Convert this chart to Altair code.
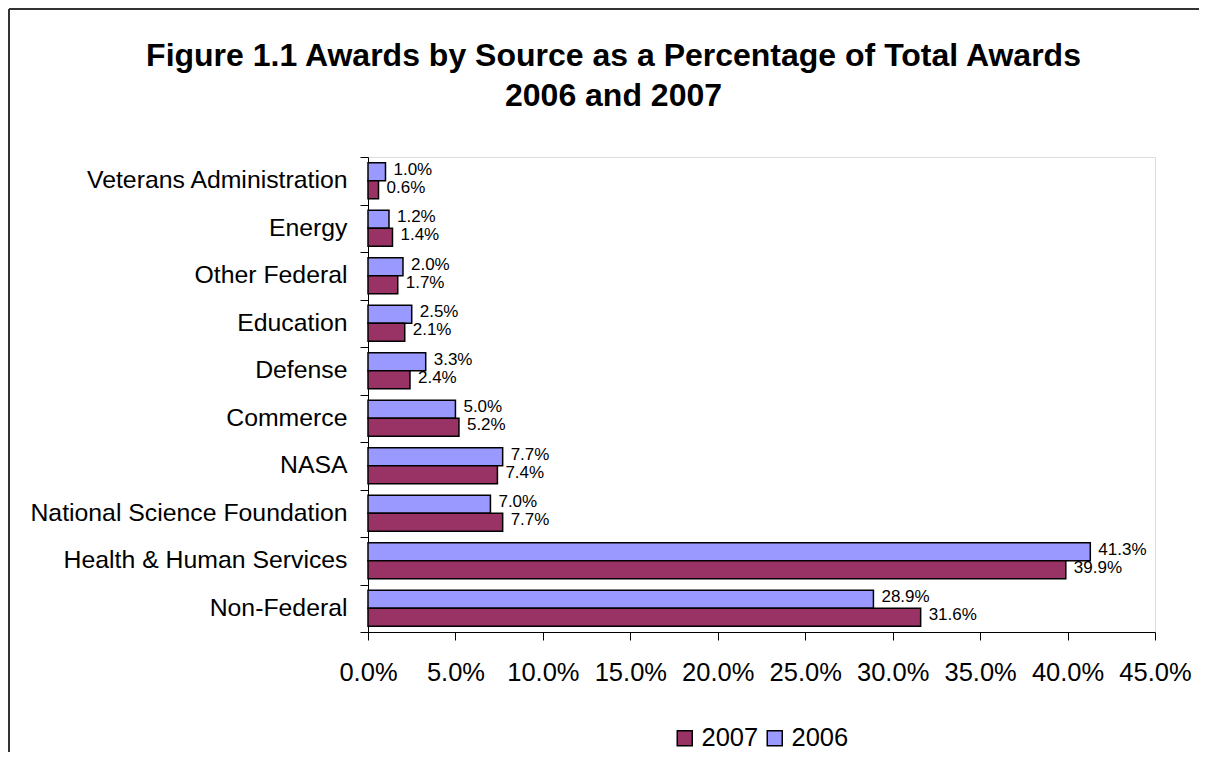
import altair as alt
import pandas as pd

categories = [
    "Veterans Administration",
    "Energy",
    "Other Federal",
    "Education",
    "Defense",
    "Commerce",
    "NASA",
    "National Science Foundation",
    "Health & Human Services",
    "Non-Federal",
]
values_2006 = [1.0, 1.2, 2.0, 2.5, 3.3, 5.0, 7.7, 7.0, 41.3, 28.9]
values_2007 = [0.6, 1.4, 1.7, 2.1, 2.4, 5.2, 7.4, 7.7, 39.9, 31.6]
legend_years = ["2007", "2006"]
bar_order = ["2006", "2007"]
year_colors = ["#993366", "#9999FF"]
x_ticks = [0, 5, 10, 15, 20, 25, 30, 35, 40, 45]

FONT = "Liberation Sans"

rows = []
for c, v6, v7 in zip(categories, values_2006, values_2007):
    rows.append({"Source": c, "Year": "2006", "Value": v6})
    rows.append({"Source": c, "Year": "2007", "Value": v7})
df = pd.DataFrame(rows)

base = alt.Chart(df).encode(
    y=alt.Y(
        "Source:N",
        sort=categories,
        scale=alt.Scale(paddingInner=0, paddingOuter=0),
        axis=alt.Axis(
            title=None,
            tickBand="extent",
            tickSize=8,
            tickColor="black",
            domainColor="black",
            labelFont=FONT,
            labelFontSize=24.8,
            labelColor="black",
            labelPadding=13,
            labelLimit=500,
        ),
    ),
    yOffset=alt.YOffset(
        "Year:N",
        sort=bar_order,
        scale=alt.Scale(paddingInner=0, paddingOuter=0.32),
    ),
    x=alt.X(
        "Value:Q",
        scale=alt.Scale(domain=[0, 45], nice=False),
        axis=alt.Axis(
            title=None,
            values=x_ticks,
            grid=False,
            tickSize=8,
            tickColor="black",
            domainColor="black",
            labelFont=FONT,
            labelFontSize=25.5,
            labelColor="black",
            labelPadding=20,
            labelOverlap=False,
            labelFlush=False,
            labelExpr="format(datum.value, '.1f') + '%'",
        ),
    ),
)

bars = base.mark_bar(stroke="black", strokeWidth=1.5).encode(
    color=alt.Color(
        "Year:N",
        scale=alt.Scale(domain=legend_years, range=year_colors),
        legend=alt.Legend(
            title=None,
            orient="none",
            legendX=304,
            legendY=568,
            direction="horizontal",
            symbolType="square",
            symbolSize=225,
            symbolStrokeColor="black",
            symbolStrokeWidth=1.5,
            labelFont=FONT,
            labelFontSize=25.5,
            labelColor="black",
            labelOffset=4,
            columnPadding=3,
        ),
    )
)

labels = base.transform_calculate(
    label="format(datum.Value, '.1f') + '%'"
).mark_text(
    align="left", baseline="middle", dx=8, dy=-2, fontSize=17, font=FONT, color="black"
).encode(text="label:N")

frame_top = alt.Chart(alt.Data(values=[{}])).mark_rule(color="#333333", strokeWidth=2).encode(
    x=alt.value(-359), x2=alt.value(840), y=alt.value(-148)
)
frame_left = alt.Chart(alt.Data(values=[{}])).mark_rule(color="#333333", strokeWidth=2).encode(
    x=alt.value(-359), y=alt.value(-148), y2=alt.value(600)
)

chart = alt.layer(bars, labels, frame_top, frame_left).properties(
    width=787,
    height=475,
    autosize=alt.AutoSizeParams(type="none"),
    padding={"left": 360, "top": 149, "right": 44, "bottom": 120},
    title=alt.Title(
        ["Figure 1.1 Awards by Source as a Percentage of Total Awards", "2006 and 2007"],
        font=FONT,
        fontSize=32,
        fontWeight="bold",
        color="black",
        anchor="middle",
        frame="group",
        dx=-148,
        dy=151,
        offset=46,
        lineHeight=40,
    ),
).configure_view(stroke="#808080", strokeWidth=1).configure(background="white")

chart.save("out.html", embed_options={"renderer": "svg", "actions": False})
